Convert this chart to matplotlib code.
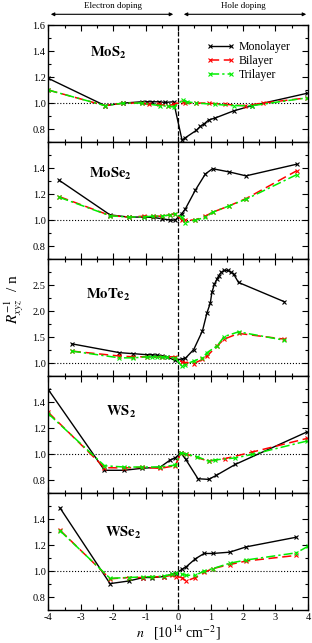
import numpy as np
import matplotlib.pyplot as plt
from matplotlib.ticker import MultipleLocator
from matplotlib.patches import FancyArrowPatch

plt.rcParams['font.family'] = ['Liberation Serif', 'DejaVu Serif']
plt.rcParams['mathtext.fontset'] = 'stix'
plt.rcParams['font.size'] = 7.5
plt.rcParams['axes.unicode_minus'] = False

# ---- data ----
# MoS2
mos2_mono_x = [-4.0, -2.25, -1.69, -1.12, -0.96, -0.8, -0.6, -0.4, -0.14,
               0.12, 0.22, 0.56, 0.68, 0.80, 0.94, 1.14, 1.71, 2.28, 3.97]
mos2_mono_y = [1.19, 0.98, 1.0, 1.01, 1.01, 1.01, 1.01, 1.005, 1.01,
               0.715, 0.733, 0.79, 0.82, 0.84, 0.87, 0.885, 0.94, 0.98, 1.075]
mos2_bi_x = [-4.0, -2.25, -1.69, -1.12, -0.9, -0.6, -0.3, -0.14,
             0.15, 0.22, 0.56, 0.94, 1.45, 2.06, 2.62, 3.97]
mos2_bi_y = [1.10, 0.98, 1.0, 1.0, 0.99, 0.99, 0.98, 0.99,
             1.01, 1.0, 1.0, 1.0, 0.99, 0.98, 1.0, 1.04]
mos2_tri_x = [-4.0, -2.25, -1.69, -1.12, -0.56, -0.3, -0.14,
              0.15, 0.27, 0.56, 1.14, 1.71, 2.28, 3.97]
mos2_tri_y = [1.10, 0.98, 1.0, 1.0, 0.98, 0.975, 0.97,
              1.025, 1.01, 1.0, 0.99, 0.98, 0.98, 1.04]

# MoSe2
mose2_x = [-3.66, -2.10, -1.53, -1.05, -0.76, -0.5, -0.24, -0.09,
           0.115, 0.22, 0.53, 0.84, 1.06, 1.58, 2.09, 3.66]
mose2_mono_y = [1.305, 1.04, 1.023, 1.023, 1.02, 1.01, 1.0, 1.0,
                1.05, 1.085, 1.23, 1.355, 1.395, 1.37, 1.34, 1.43]
mose2_bi_y = [1.18, 1.035, 1.023, 1.03, 1.03, 1.03, 1.04, 1.05,
              1.0, 1.0, 1.0, 1.03, 1.06, 1.11, 1.165, 1.38]
mose2_tri_y = [1.175, 1.033, 1.023, 1.025, 1.03, 1.03, 1.04, 1.05,
               1.02, 0.98, 1.0, 1.02, 1.06, 1.11, 1.16, 1.35]

# MoTe2
mote2_mono_x = [-3.28, -1.81, -1.38, -0.96, -0.8, -0.65, -0.5, -0.35, -0.09,
                0.115, 0.22, 0.48, 0.75, 0.89, 0.99, 1.04, 1.12, 1.2, 1.25,
                1.33, 1.42, 1.53, 1.63, 1.71, 1.86, 3.27]
mote2_mono_y = [1.37, 1.20, 1.18, 1.16, 1.16, 1.15, 1.14, 1.12, 1.05,
                1.08, 1.09, 1.26, 1.62, 1.97, 2.15, 2.36, 2.52, 2.62, 2.68,
                2.745, 2.78, 2.78, 2.745, 2.71, 2.55, 2.18]
mote2_bi_x = [-3.28, -1.81, -1.38, -0.96, -0.5, -0.09,
              0.115, 0.22, 0.48, 0.75, 0.89, 1.2, 1.42, 1.86, 3.27]
mote2_bi_y = [1.23, 1.135, 1.12, 1.12, 1.12, 1.12,
              1.02, 1.01, 0.99, 1.07, 1.135, 1.33, 1.46, 1.57, 1.46]
mote2_tri_x = [-3.28, -1.81, -1.38, -0.96, -0.8, -0.65, -0.5, -0.35, -0.09,
               0.115, 0.22, 0.48, 0.75, 0.89, 1.2, 1.42, 1.86, 3.27]
mote2_tri_y = [1.23, 1.10, 1.10, 1.12, 1.12, 1.12, 1.12, 1.11, 1.10,
               0.94, 0.97, 1.04, 1.10, 1.20, 1.33, 1.51, 1.60, 1.44]

# WS2
ws2_mono_x = [-4.0, -2.27, -1.66, -1.12, -0.55, -0.24, -0.09,
              0.08, 0.23, 0.61, 0.94, 1.17, 1.76, 3.97]
ws2_mono_y = [1.495, 0.875, 0.875, 0.89, 0.90, 0.955, 0.97,
              1.01, 0.96, 0.81, 0.805, 0.835, 0.92, 1.17]
ws2_bi_x = [-4.0, -2.27, -1.66, -1.12, -0.55, -0.09,
            0.08, 0.23, 0.94, 1.45, 2.28, 3.97]
ws2_bi_y = [1.32, 0.895, 0.893, 0.898, 0.89, 0.91,
            1.005, 1.0, 0.945, 0.965, 1.015, 1.12]
ws2_tri_x = [-4.0, -2.27, -1.66, -1.12, -0.55, -0.09,
             0.08, 0.23, 0.58, 0.94, 1.14, 1.76, 2.28, 3.97]
ws2_tri_y = [1.31, 0.91, 0.90, 0.90, 0.90, 0.915,
             1.01, 1.0, 0.98, 0.945, 0.955, 0.97, 0.997, 1.10]

# WSe2
wse2_x = [-3.64, -2.10, -1.53, -1.07, -0.81, -0.45, -0.19, -0.07,
          0.115, 0.25, 0.53, 0.80, 1.06, 1.59, 2.10, 3.64]
wse2_mono_y = [1.485, 0.903, 0.923, 0.95, 0.95, 0.957, 0.975, 0.98,
               1.013, 1.033, 1.094, 1.135, 1.135, 1.145, 1.186, 1.26]
wse2_bi_y = [1.314, 0.94, 0.95, 0.95, 0.955, 0.957, 0.967, 0.957,
             0.95, 0.923, 0.95, 0.99, 1.018, 1.05, 1.077, 1.12]
wse2_tri_x = wse2_x + [4.0]
wse2_tri_y = [1.31, 0.944, 0.95, 0.955, 0.957, 0.96, 0.975, 0.982,
              0.975, 0.967, 0.967, 1.0, 1.018, 1.06, 1.085, 1.14, 1.19]

panels = [
    (r'$\mathbf{MoS}_\mathbf{2}$', (0.23, 0.76),
     (mos2_mono_x, mos2_mono_y), (mos2_bi_x, mos2_bi_y), (mos2_tri_x, mos2_tri_y)),
    (r'$\mathbf{MoSe}_\mathbf{2}$', (0.24, 0.73),
     (mose2_x, mose2_mono_y), (mose2_x, mose2_bi_y), (mose2_x, mose2_tri_y)),
    (r'$\mathbf{MoTe}_\mathbf{2}$', (0.23, 0.69),
     (mote2_mono_x, mote2_mono_y), (mote2_bi_x, mote2_bi_y), (mote2_tri_x, mote2_tri_y)),
    (r'$\mathbf{WS}_\mathbf{2}$', (0.28, 0.69),
     (ws2_mono_x, ws2_mono_y), (ws2_bi_x, ws2_bi_y), (ws2_tri_x, ws2_tri_y)),
    (r'$\mathbf{WSe}_\mathbf{2}$', (0.29, 0.66),
     (wse2_x, wse2_mono_y), (wse2_x, wse2_bi_y), (wse2_tri_x, wse2_tri_y)),
]

fig, axes = plt.subplots(5, 1, figsize=(3.12, 6.43), dpi=100, sharex=True)
plt.subplots_adjust(left=0.155, right=0.987, top=0.961, bottom=0.0513, hspace=0)

for i, (ax, (name, pos, mono, bi, tri)) in enumerate(zip(axes, panels)):
    ax.axhline(1.0, color='black', ls=':', lw=0.8)
    ax.axvline(0.0, color='black', ls='--', lw=0.9)
    ax.plot(*mono, color='black', ls='-', lw=1.0, marker='x', ms=3, mew=0.8,
            label='Monolayer')
    ax.plot(*bi, color='red', ls=(0, (6, 3)), lw=1.1, marker='x', ms=3, mew=0.8,
            label='Bilayer')
    ax.plot(*tri, color='#00ee00', ls=(0, (6, 2, 1.5, 2)), lw=1.1, marker='x',
            ms=3, mew=0.8, label='Trilayer')
    ax.text(pos[0], pos[1], name, transform=ax.transAxes, ha='center',
            va='center', fontsize=10.5)
    ax.set_xlim(-4, 4)
    ax.xaxis.set_major_locator(MultipleLocator(1))
    ax.xaxis.set_minor_locator(MultipleLocator(0.5))
    if i == 2:
        ax.set_ylim(0.75, 3.0)
        ax.set_yticks([1.0, 1.5, 2.0, 2.5])
        ax.yaxis.set_minor_locator(MultipleLocator(0.25))
    else:
        ax.set_ylim(0.7, 1.6)
        ax.set_yticks([0.8, 1.0, 1.2, 1.4, 1.6] if i == 0 else [0.8, 1.0, 1.2, 1.4])
        ax.yaxis.set_minor_locator(MultipleLocator(0.1))
    ax.tick_params(which='both', direction='in', top=True, right=True,
                   labelsize=7.5, pad=2)
    ax.tick_params(which='major', length=4, width=0.8)
    ax.tick_params(which='minor', length=2.5, width=0.8)
    for s in ax.spines.values():
        s.set_linewidth(1.0)

axes[0].legend(loc='upper right', bbox_to_anchor=(0.95, 0.90), frameon=False,
               fontsize=8.5, handlelength=2.4, handletextpad=0.3,
               labelspacing=0.15, numpoints=2, borderaxespad=0.0)

axes[-1].set_xlabel(r'$n$   [10$^{14}$ cm$^{-2}$]', fontsize=10, labelpad=1)
fig.text(0.045, 0.535, r'$R^{-1}_{xyz}$  / n', rotation=90, ha='center',
         va='center', fontsize=11)

# doping arrows on top
ya = 1 - 14.3 / 643
for x0, x1 in [(48 / 312, 176 / 312), (181 / 312, 309 / 312)]:
    fig.patches.append(FancyArrowPatch(
        (x0, ya), (x1, ya), transform=fig.transFigure,
        arrowstyle='<|-|>', mutation_scale=5, lw=0.8, color='black'))
fig.text(113 / 312, 1 - 5.5 / 643, 'Electron doping', ha='center', va='center',
         fontsize=6.5)
fig.text(243 / 312, 1 - 5.5 / 643, 'Hole doping', ha='center', va='center',
         fontsize=6.5)

plt.savefig('out.png', dpi=100)
